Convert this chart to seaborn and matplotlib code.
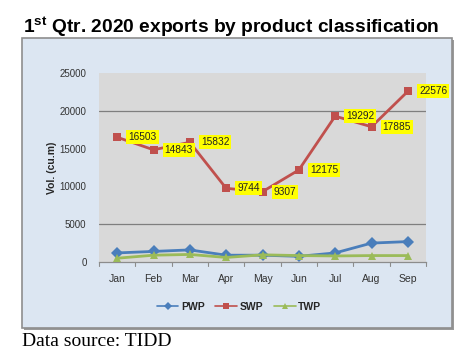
import matplotlib
matplotlib.use("Agg")
import matplotlib.pyplot as plt
from matplotlib.patches import Rectangle
from matplotlib.lines import Line2D
import seaborn as sns
import pandas as pd

months = ["Jan", "Feb", "Mar", "Apr", "May", "Jun", "Jul", "Aug", "Sep"]
pwp = [1200, 1400, 1600, 900, 900, 750, 1200, 2500, 2700]
swp = [16503, 14843, 15832, 9744, 9307, 12175, 19292, 17885, 22576]
twp = [500, 900, 1000, 600, 950, 850, 800, 850, 850]
yticks = [0, 5000, 10000, 15000, 20000, 25000]
visible_grid = [5000, 20000]
title_text = r"1$^{\mathbf{st}}$ Qtr. 2020 exports by product classification"
ylabel_text = "Vol. (cu.m)"
source_text = "Data source: TIDD"

sns.set_theme(style="white")
plt.rcParams["font.family"] = ["Liberation Sans", "DejaVu Sans"]
plt.rcParams["mathtext.fontset"] = "custom"
plt.rcParams["mathtext.rm"] = "Liberation Sans:bold"
plt.rcParams["mathtext.bf"] = "Liberation Sans:bold"

df = pd.DataFrame({"month": months * 3,
                   "value": pwp + swp + twp,
                   "series": ["PWP"] * 9 + ["SWP"] * 9 + ["TWP"] * 9})

W, H = 472, 356
fig = plt.figure(figsize=(W / 100, H / 100), dpi=100)
fig.patch.set_facecolor("white")

# chart box with shadow
bx0, by0, bx1, by1 = 22, 38, 452, 328
fig.patches.append(Rectangle((bx0 / W + 2 / W, 1 - by1 / H - 2 / H), (bx1 - bx0) / W, (by1 - by0) / H,
                             transform=fig.transFigure, facecolor="#9a9a9a", edgecolor="none", zorder=-2))
fig.patches.append(Rectangle((bx0 / W, 1 - by1 / H), (bx1 - bx0) / W, (by1 - by0) / H,
                             transform=fig.transFigure, facecolor="#dce6f2", edgecolor="#8e8e8e",
                             linewidth=1.2, zorder=-1))

px0, py0, px1, py1 = 99, 73, 426, 262
ax = fig.add_axes([px0 / W, 1 - py1 / H, (px1 - px0) / W, (py1 - py0) / H])
ax.set_zorder(2)
ax.set_facecolor("#d9d9d9")

palette = {"PWP": "#4a7ebb", "SWP": "#c0504d", "TWP": "#9bbb59"}
markers = {"PWP": "D", "SWP": "s", "TWP": "^"}
sns.lineplot(data=df, x="month", y="value", hue="series", style="series",
             palette=palette, markers=markers, dashes=False, linewidth=2,
             markersize=6, markeredgewidth=0, ax=ax, legend=False, sort=False, zorder=3)

for g in visible_grid:
    ax.axhline(g, color="#7f7f7f", linewidth=0.9, zorder=1)

ax.set_xlim(-0.5, 8.5)
ax.set_ylim(0, 25000)
ax.set_yticks(yticks)
ax.set_yticklabels([str(v) for v in yticks], fontsize=7, color="#333333")
ax.set_xticks(range(len(months)))
ax.set_xticklabels(months, fontsize=7.5, color="#333333")
ax.tick_params(axis="y", length=0, pad=9)
ax.tick_params(axis="x", length=0, pad=9)
for i in range(len(months) + 1):
    ax.plot([i - 0.5, i - 0.5], [0, -500], color="#8c8c8c", linewidth=0.8, clip_on=False)
for s in ["top", "right", "left"]:
    ax.spines[s].set_visible(False)
ax.spines["bottom"].set_color("#8c8c8c")
ax.spines["bottom"].set_linewidth(0.9)
ax.set_xlabel("")
ax.set_ylabel(ylabel_text, fontsize=7.5, fontweight="bold", labelpad=2)

for i, v in enumerate(swp):
    ax.annotate(str(v), (i, v), xytext=(8, 0), textcoords="offset points",
                fontsize=7.3, va="center", ha="left", color="#222222", zorder=5,
                annotation_clip=False,
                bbox=dict(boxstyle="square,pad=0.2", facecolor="#ffff00", edgecolor="none"))

# legend
handles = [Line2D([], [], color=palette[k], marker=markers[k], markersize=4, markeredgewidth=0,
                  linewidth=1.2) for k in ["PWP", "SWP", "TWP"]]
fig.legend(handles, ["PWP", "SWP", "TWP"], loc="center", bbox_to_anchor=(239 / W, 1 - 307 / H),
           ncol=3, frameon=False, prop={"weight": "bold", "size": 7.5}, handlelength=2.1,
           handletextpad=0.25, columnspacing=1.0)

fig.text(23 / W, 1 - 33 / H, title_text, fontsize=13.8, fontweight="bold", ha="left", va="baseline",
         color="black")
fig.text(22 / W, 1 - 341 / H, source_text, fontsize=14, family="Liberation Serif", ha="left",
         va="center", color="black")

fig.savefig("out.png", dpi=100)
